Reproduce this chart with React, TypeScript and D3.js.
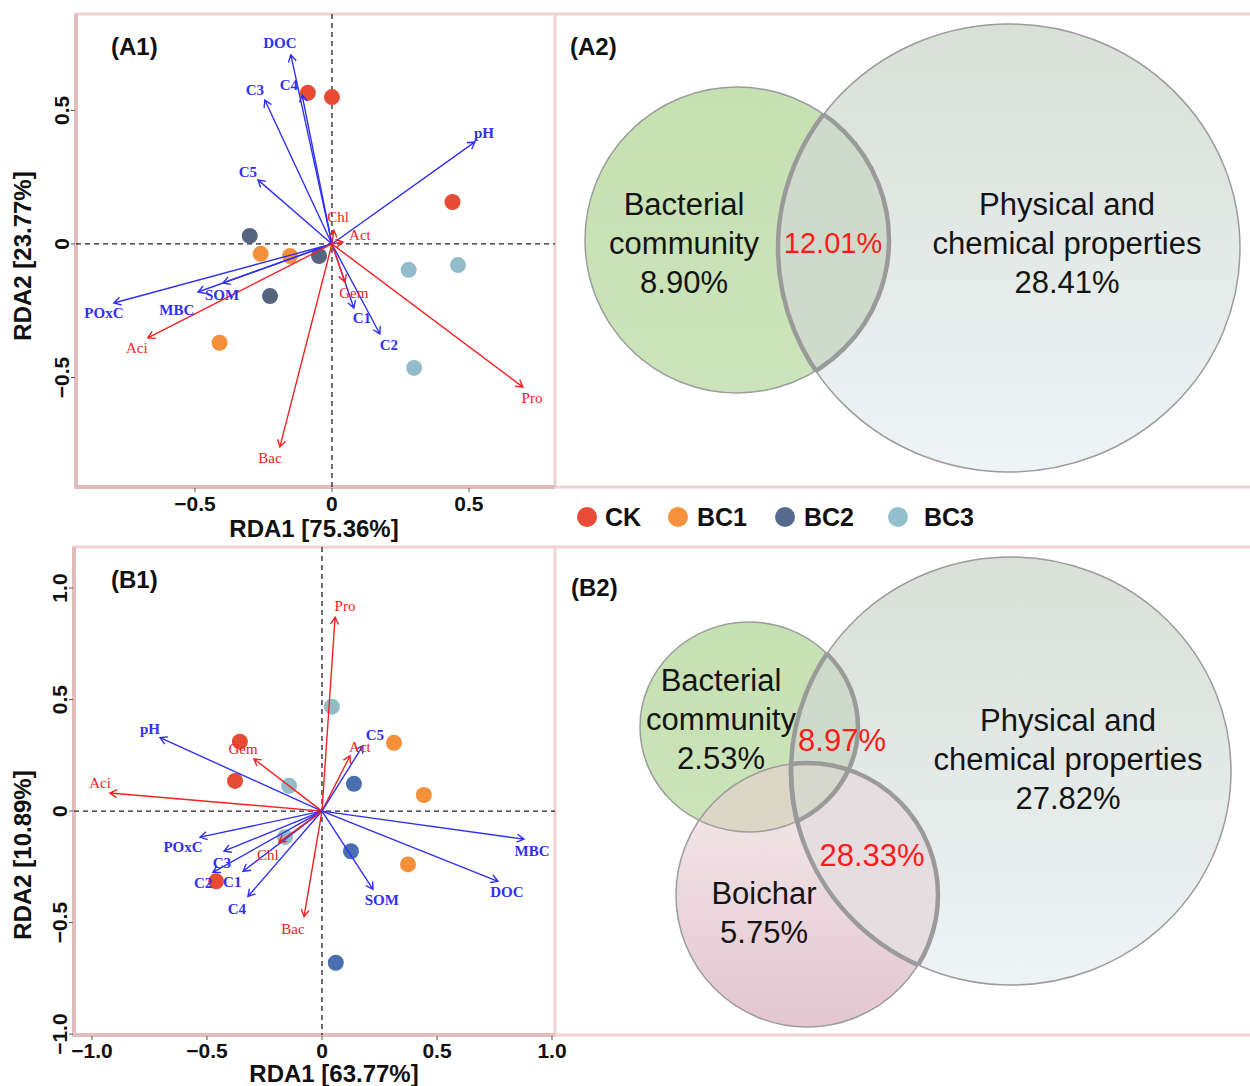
import React from 'react';
import * as d3 from 'd3';

// treatment groups, legend order
const groups = ['CK', 'BC1', 'BC2', 'BC3'];
const legendColors = ['#e84b36', '#f6923b', '#566a8e', '#93bfcd'];
const a1Colors = ['#e84b34', '#f5903a', '#56657f', '#93bccb'];
const b1Colors = ['#e84b34', '#f5903a', '#4a6fae', '#93bccb'];

const siteGroup = ['CK', 'CK', 'CK', 'BC1', 'BC1', 'BC1', 'BC2', 'BC2', 'BC2', 'BC3', 'BC3', 'BC3'];

// (A1) site scores
const a1SiteX = [-0.088, 0.0, 0.44, -0.26, -0.153, -0.41, -0.30, -0.047, -0.226, 0.28, 0.46, 0.30];
const a1SiteY = [0.566, 0.55, 0.157, -0.037, -0.045, -0.37, 0.03, -0.045, -0.195, -0.097, -0.079, -0.464];

// (A1) variable arrows: env = blue, bac = red
const a1VarName = ['DOC', 'C3', 'C4', 'C5', 'pH', 'POxC', 'MBC', 'SOM', 'C1', 'C2', 'Aci', 'Bac', 'Pro', 'Gem', 'Chl', 'Act'];
const a1VarKind = ['env', 'env', 'env', 'env', 'env', 'env', 'env', 'env', 'env', 'env', 'bac', 'bac', 'bac', 'bac', 'bac', 'bac'];
const a1VarX = [-0.150, -0.245, -0.109, -0.270, 0.522, -0.796, -0.489, -0.398, 0.080, 0.175, -0.672, -0.190, 0.697, 0.047, 0.007, 0.040];
const a1VarY = [0.708, 0.539, 0.558, 0.240, 0.382, -0.221, -0.180, -0.146, -0.240, -0.337, -0.352, -0.760, -0.536, -0.142, 0.052, 0.007];
const a1LabX = [-0.190, -0.281, -0.157, -0.307, 0.555, -0.832, -0.566, -0.401, 0.109, 0.208, -0.712, -0.226, 0.730, 0.080, 0.022, 0.102];
const a1LabY = [0.753, 0.577, 0.596, 0.270, 0.416, -0.258, -0.247, -0.191, -0.277, -0.378, -0.390, -0.801, -0.577, -0.184, 0.101, 0.034];

// (B1) site scores
const b1SiteX = [-0.357, -0.378, -0.46, 0.313, 0.443, 0.374, 0.139, 0.126, 0.06, 0.043, -0.143, -0.161];
const b1SiteY = [0.311, 0.135, -0.315, 0.306, 0.072, -0.239, 0.122, -0.18, -0.68, 0.468, 0.113, -0.117];

// (B1) variable arrows
const b1VarName = ['Pro', 'pH', 'Gem', 'Aci', 'Act', 'C5', 'POxC', 'C3', 'C2', 'C1', 'C4', 'Chl', 'Bac', 'SOM', 'MBC', 'DOC'];
const b1VarKind = ['bac', 'env', 'bac', 'bac', 'bac', 'env', 'env', 'env', 'env', 'env', 'env', 'bac', 'bac', 'env', 'env', 'env'];
const b1VarX = [0.057, -0.704, -0.296, -0.922, 0.122, 0.178, -0.530, -0.426, -0.474, -0.343, -0.322, -0.187, -0.078, 0.222, 0.878, 0.765];
const b1VarY = [0.869, 0.329, 0.234, 0.081, 0.248, 0.293, -0.117, -0.180, -0.275, -0.270, -0.383, -0.140, -0.473, -0.351, -0.126, -0.315];
const b1LabX = [0.100, -0.748, -0.343, -0.965, 0.165, 0.230, -0.604, -0.435, -0.517, -0.390, -0.370, -0.235, -0.126, 0.260, 0.913, 0.804];
const b1LabY = [0.920, 0.370, 0.280, 0.126, 0.288, 0.342, -0.162, -0.230, -0.320, -0.315, -0.437, -0.194, -0.527, -0.396, -0.180, -0.360];

const a1Ticks = [-0.5, 0, 0.5];
const b1Ticks = [-1, -0.5, 0, 0.5, 1];

// variance partitioning
const vennALabels = ['Bacterial', 'community', '8.90%'];
const vennAShared = '12.01%';
const vennAPhys = ['Physical and', 'chemical properties', '28.41%'];
const vennBLabels = ['Bacterial', 'community', '2.53%'];
const vennBShared = ['8.97%', '28.33%'];
const vennBPhys = ['Physical and', 'chemical properties', '27.82%'];
const vennBChar = ['Boichar', '5.75%'];

const SANS = "'Liberation Sans', Arial, Helvetica, sans-serif";
const SERIF = "'Liberation Serif', 'Times New Roman', serif";
const BLUE = '#3030f5';
const RED = '#f52020';

const fmt = (d) => (d === 0 ? '0' : d3.format('.1f')(d));

function arrowPath(x1, y1, x2, y2) {
  const a = Math.atan2(y2 - y1, x2 - x1);
  const L = 8, w = Math.PI / 6;
  return `M${x1},${y1}L${x2},${y2}` +
    `M${x2 - L * Math.cos(a - w)},${y2 - L * Math.sin(a - w)}L${x2},${y2}` +
    `L${x2 - L * Math.cos(a + w)},${y2 - L * Math.sin(a + w)}`;
}

function RdaPanel(p) {
  const x = d3.scaleLinear().domain(p.xDom).range([p.left, p.right]);
  const y = d3.scaleLinear().domain(p.yDom).range([p.top, p.bottom]);
  const colorOf = (g) => p.colors[groups.indexOf(g)];

  return (
    <g>
      {/* zero lines */}
      <line x1={p.left} x2={p.right} y1={y(0)} y2={y(0)} stroke="#222" strokeWidth={1.3} strokeDasharray="5,4" />
      <line x1={x(0)} x2={x(0)} y1={p.top} y2={p.bottom} stroke="#222" strokeWidth={1.3} strokeDasharray="5,4" />

      {/* sites */}
      {p.sx.map((v, i) => (
        <circle key={'s' + i} cx={x(v)} cy={y(p.sy[i])} r={8} fill={colorOf(siteGroup[i])} />
      ))}

      {/* arrows */}
      {p.vx.map((v, i) => (
        <path key={'a' + i} d={arrowPath(x(0), y(0), x(v), y(p.vy[i]))} fill="none"
          stroke={p.vk[i] === 'env' ? BLUE : RED} strokeWidth={1.4} />
      ))}
      {p.vn.map((n, i) => (
        <text key={'l' + i} x={x(p.lx[i])} y={y(p.ly[i])} dy="0.35em" textAnchor="middle"
          fontFamily={SERIF} fontSize={15} fontWeight={p.vk[i] === 'env' ? 'bold' : 'normal'}
          fill={p.vk[i] === 'env' ? BLUE : RED}>{n}</text>
      ))}

      {/* axes */}
      {p.xTicks.map((t) => (
        <g key={'xt' + t}>
          <line x1={x(t)} x2={x(t)} y1={p.bottom + 1} y2={p.bottom + 5} stroke="#555" />
          <text x={x(t)} y={p.bottom + p.tickGap} textAnchor="middle" fontFamily={SANS} fontWeight="bold"
            fontSize={21} fill="#111">{fmt(t)}</text>
        </g>
      ))}
      {p.yTicks.map((t) => (
        <g key={'yt' + t}>
          <line x1={p.left - 5} x2={p.left - 1} y1={y(t)} y2={y(t)} stroke="#555" />
          <text transform={`translate(${p.left - 7},${y(t)}) rotate(-90)`} textAnchor="middle" fontFamily={SANS}
            fontWeight="bold" fontSize={21} fill="#111">{fmt(t)}</text>
        </g>
      ))}
      <text x={p.xTitleX} y={p.bottom + p.titleGap} textAnchor="middle" fontFamily={SANS} fontWeight="bold"
        fontSize={24} fill="#111">{p.xTitle}</text>
      <text transform={`translate(31,${p.yTitleY}) rotate(-90)`} textAnchor="middle" fontFamily={SANS}
        fontWeight="bold" fontSize={24} fill="#111">{p.yTitle}</text>

      <text x={111} y={p.top + 41} fontFamily={SANS} fontWeight="bold" fontSize={24} fill="#111">{p.tag}</text>
    </g>
  );
}

function VennText({ lines, x, y, color = '#141414', size = 31, lh = 39 }) {
  return (
    <text textAnchor="middle" fontFamily={SANS} fontSize={size} fill={color}>
      {lines.map((l, i) => (
        <tspan key={i} x={x} y={y + i * lh} dy="0.36em">{l}</tspan>
      ))}
    </text>
  );
}

export default function App() {
  const frame = '#edd2d0';
  const frameDark = '#e2bcba';
  const thin = { fill: 'none', stroke: '#9c9c9c', strokeWidth: 1.5 };
  const thick = { fill: 'none', stroke: '#9a9a9a', strokeWidth: 4.5 };

  // venn geometry (layout)
  const aG = { cx: 737, cy: 240, rx: 152, ry: 153 };
  const aB = { cx: 1009, cy: 248, rx: 231, ry: 224 };
  const bG = { cx: 749, cy: 727, rx: 109, ry: 105 };
  const bP = { cx: 807, cy: 895, rx: 131, ry: 132 };
  const bB = { cx: 1011, cy: 771, rx: 220, ry: 214 };

  return (
    <svg width={1250} height={1086} style={{ position: 'absolute', left: 0, top: 0, background: '#fff' }}>
      <defs>
        <linearGradient id="gGreen" x1="0" y1="0" x2="0" y2="1">
          <stop offset="0" stopColor="#c6e1b1" />
          <stop offset="1" stopColor="#cbe4bb" />
        </linearGradient>
        <linearGradient id="gBig" x1="0" y1="0" x2="0" y2="1">
          <stop offset="0" stopColor="#d8e0d7" />
          <stop offset="1" stopColor="#eef3f6" />
        </linearGradient>
        <linearGradient id="gPink" x1="0" y1="0" x2="0" y2="1">
          <stop offset="0" stopColor="#f5ebed" />
          <stop offset="1" stopColor="#e3c6cf" />
        </linearGradient>
        <clipPath id="cAB"><ellipse {...aB} /></clipPath>
        <clipPath id="cAG"><ellipse {...aG} /></clipPath>
        <clipPath id="cBB"><ellipse {...bB} /></clipPath>
        <clipPath id="cBG"><ellipse {...bG} /></clipPath>
        <clipPath id="cBP"><ellipse {...bP} /></clipPath>
      </defs>

      {/* frames */}
      <rect x={76} y={14} width={1200} height={473} fill="none" stroke={frame} strokeWidth={3} />
      <line x1={555} x2={555} y1={14} y2={487} stroke={frame} strokeWidth={3} />
      <path d="M76,14V487H555" fill="none" stroke={frameDark} strokeWidth={4} />
      <rect x={74} y={547} width={1200} height={488} fill="none" stroke={frame} strokeWidth={3} />
      <line x1={555} x2={555} y1={547} y2={1035} stroke={frame} strokeWidth={3} />
      <path d="M74,547V1035H555" fill="none" stroke={frameDark} strokeWidth={4} />

      <RdaPanel tag="(A1)" left={76} right={555} top={14} bottom={487}
        xDom={[-0.934, 0.814]} yDom={[0.861, -0.91]} xTicks={a1Ticks} yTicks={a1Ticks}
        sx={a1SiteX} sy={a1SiteY} colors={a1Colors}
        vn={a1VarName} vk={a1VarKind} vx={a1VarX} vy={a1VarY} lx={a1LabX} ly={a1LabY}
        tickGap={24} titleGap={50}
        xTitle="RDA1 [75.36%]" xTitleX={314} yTitle="RDA2 [23.77%]" yTitleY={256} />

      <RdaPanel tag="(B1)" left={74} right={555} top={547} bottom={1035}
        xDom={[-1.078, 1.013]} yDom={[1.184, -1.004]} xTicks={b1Ticks} yTicks={b1Ticks}
        sx={b1SiteX} sy={b1SiteY} colors={b1Colors}
        vn={b1VarName} vk={b1VarKind} vx={b1VarX} vy={b1VarY} lx={b1LabX} ly={b1LabY}
        tickGap={23} titleGap={47}
        xTitle="RDA1 [63.77%]" xTitleX={334} yTitle="RDA2 [10.89%]" yTitleY={855} />

      {/* legend */}
      {groups.map((g, i) => {
        const cx = [587, 678, 785, 898][i];
        const tx = [605, 697, 804, 924][i];
        return (
          <g key={g}>
            <circle cx={cx} cy={517} r={10} fill={legendColors[i]} />
            <text x={tx} y={526} fontFamily={SANS} fontWeight="bold" fontSize={25} fill="#111">{g}</text>
          </g>
        );
      })}

      {/* (A2) */}
      <text x={570} y={55} fontFamily={SANS} fontWeight="bold" fontSize={24} fill="#111">(A2)</text>
      <ellipse {...aB} fill="url(#gBig)" />
      <ellipse {...aG} fill="url(#gGreen)" />
      <ellipse {...aG} fill="#cfdbca" clipPath="url(#cAB)" />
      <ellipse {...aB} {...thin} />
      <ellipse {...aG} {...thin} />
      <ellipse {...aG} {...thick} clipPath="url(#cAB)" />
      <ellipse {...aB} {...thick} clipPath="url(#cAG)" />
      <VennText lines={vennALabels} x={684} y={204} />
      <VennText lines={[vennAShared]} x={833} y={243} color="#ff1a1a" size={29} />
      <VennText lines={vennAPhys} x={1067} y={204} />

      {/* (B2) */}
      <text x={571} y={596} fontFamily={SANS} fontWeight="bold" fontSize={24} fill="#111">(B2)</text>
      <ellipse {...bB} fill="url(#gBig)" />
      <ellipse {...bG} fill="url(#gGreen)" />
      <ellipse {...bP} fill="url(#gPink)" />
      <ellipse {...bG} fill="#cfdbca" clipPath="url(#cBB)" />
      <ellipse {...bP} fill="#e6dde0" clipPath="url(#cBB)" />
      <g clipPath="url(#cBG)">
        <ellipse {...bP} fill="#dcd6c6" />
        <ellipse {...bP} fill="#d5d8cb" clipPath="url(#cBB)" />
      </g>
      <ellipse {...bB} {...thin} />
      <ellipse {...bG} {...thin} />
      <ellipse {...bP} {...thin} />
      <ellipse {...bG} {...thick} clipPath="url(#cBB)" />
      <ellipse {...bB} {...thick} clipPath="url(#cBG)" />
      <ellipse {...bP} {...thick} clipPath="url(#cBB)" />
      <ellipse {...bB} {...thick} clipPath="url(#cBP)" />
      <VennText lines={vennBLabels} x={721} y={680} />
      <VennText lines={[vennBShared[0]]} x={842} y={740} color="#ff1a1a" />
      <VennText lines={[vennBShared[1]]} x={872} y={855} color="#ff1a1a" />
      <VennText lines={vennBPhys} x={1068} y={720} />
      <VennText lines={vennBChar} x={764} y={893} />
    </svg>
  );
}
